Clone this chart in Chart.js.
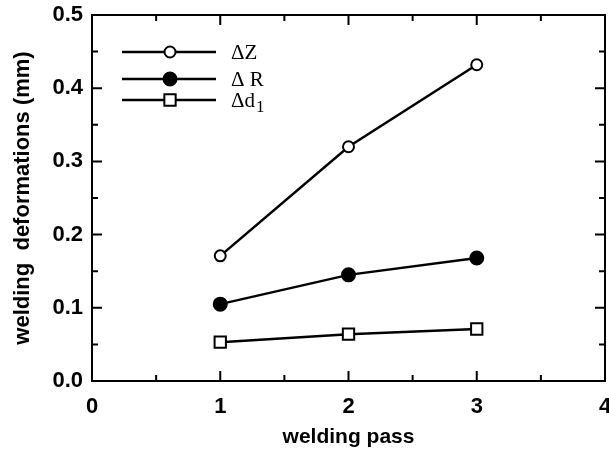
<!DOCTYPE html>
<html>
<head>
<meta charset="utf-8">
<script src="https://cdn.jsdelivr.net/npm/chart.js@4.4.0/dist/chart.umd.min.js"></script>
<style>
html,body{margin:0;padding:0;background:#fff;overflow:hidden;}
#wrap{width:609px;height:454px;overflow:hidden;}
</style>
</head>
<body>
<div id="wrap"><canvas id="c" width="615" height="454"></canvas></div>
<script>
const passes = [1, 2, 3];
const dZ = [0.171, 0.320, 0.432];
const dR = [0.105, 0.145, 0.168];
const dd1 = [0.053, 0.064, 0.071];
const xTicks = [0, 1, 2, 3, 4];
const yTicks = [0.0, 0.1, 0.2, 0.3, 0.4, 0.5];
const xMinor = [0.5, 1.5, 2.5, 3.5];
const yMinor = [0.05, 0.15, 0.25, 0.35, 0.45];
const seriesLabels = ['ΔZ', 'Δ R', 'Δd'];

const pts = (ys) => passes.map((x, i) => ({x: x, y: ys[i]}));

const frameTicks = {
  id: 'frameTicks',
  afterDraw(chart) {
    const ctx = chart.ctx, a = chart.chartArea;
    const xs = chart.scales.x, ys = chart.scales.y;
    ctx.save();
    ctx.strokeStyle = '#000';
    ctx.lineWidth = 2;
    ctx.strokeRect(a.left, a.top, a.right - a.left, a.bottom - a.top);
    const maj = 10, mn = 6;
    ctx.beginPath();
    xTicks.forEach(v => { const p = xs.getPixelForValue(v);
      ctx.moveTo(p, a.bottom); ctx.lineTo(p, a.bottom - maj);
      ctx.moveTo(p, a.top); ctx.lineTo(p, a.top + maj); });
    xMinor.forEach(v => { const p = xs.getPixelForValue(v);
      ctx.moveTo(p, a.bottom); ctx.lineTo(p, a.bottom - mn);
      ctx.moveTo(p, a.top); ctx.lineTo(p, a.top + mn); });
    yTicks.forEach(v => { const p = ys.getPixelForValue(v);
      ctx.moveTo(a.left, p); ctx.lineTo(a.left + maj, p);
      ctx.moveTo(a.right, p); ctx.lineTo(a.right - maj, p); });
    yMinor.forEach(v => { const p = ys.getPixelForValue(v);
      ctx.moveTo(a.left, p); ctx.lineTo(a.left + mn, p);
      ctx.moveTo(a.right, p); ctx.lineTo(a.right - mn, p); });
    ctx.stroke();

    // legend
    const rows = [52, 79, 100];
    chart.data.datasets.forEach((ds, i) => {
      const y = rows[i];
      ctx.beginPath();
      ctx.lineWidth = 2.5;
      ctx.strokeStyle = '#000';
      ctx.moveTo(122, y); ctx.lineTo(216, y);
      ctx.stroke();
      ctx.fillStyle = ds.pointBackgroundColor;
      ctx.strokeStyle = '#000';
      ctx.lineWidth = ds.pointBorderWidth;
      ctx.beginPath();
      if (ds.pointStyle === 'rect') {
        const s = Math.SQRT1_2 * ds.pointRadius;
        ctx.rect(170 - s, y - s, 2 * s, 2 * s);
      } else {
        ctx.arc(170, y, ds.pointRadius, 0, Math.PI * 2);
      }
      ctx.fill(); ctx.stroke();
      ctx.fillStyle = '#000';
      ctx.font = '21px "Liberation Serif"';
      ctx.textBaseline = 'alphabetic';
      ctx.textAlign = 'left';
      ctx.fillText(ds.label, 231, y + 7);
      if (i === 2) {
        const w = ctx.measureText(ds.label).width;
        ctx.font = '17px "Liberation Serif"';
        ctx.fillText('1', 231 + w + 1, y + 12);
      }
    });
    ctx.restore();
  }
};

const mk = (label, data, style, radius, fill) => ({
  label: label, data: data, borderColor: '#000', borderWidth: 2.5,
  pointStyle: style, pointRadius: radius, pointHoverRadius: radius,
  pointBackgroundColor: fill, pointBorderColor: '#000', pointBorderWidth: 2,
  showLine: true, fill: false, tension: 0
});

const noPad = s => ({left: 0, top: 0, right: 0, bottom: 0});

new Chart(document.getElementById('c'), {
  type: 'scatter',
  data: {
    datasets: [
      mk(seriesLabels[0], pts(dZ), 'circle', 5.5, '#fff'),
      mk(seriesLabels[1], pts(dR), 'circle', 6.5, '#000'),
      mk(seriesLabels[2], pts(dd1), 'rect', 8, '#fff')
    ]
  },
  options: {
    responsive: false,
    animation: false,
    layout: {padding: {top: 15, right: 4, left: 0, bottom: 0}},
    plugins: {legend: {display: false}, tooltip: {enabled: false}},
    scales: {
      x: {
        type: 'linear', min: 0, max: 4,
        afterBuildTicks: s => { s.ticks = xTicks.map(v => ({value: v})); },
        afterFit: s => { s.height = 73; s.paddingLeft = 0; s.paddingRight = 0; s.getPadding = noPad;
                         if (s._margins) { s._margins.left = 0; s._margins.right = 0; } },
        grid: {display: false, drawTicks: false},
        border: {display: false},
        ticks: {color: '#000', font: {family: '"Liberation Sans"', size: 22, weight: 'bold'}, padding: 13, maxRotation: 0,
                callback: v => String(v)},
        title: {display: true, text: 'welding pass', color: '#000',
                font: {family: '"Liberation Sans"', size: 21, weight: 'bold'}, padding: {top: 0, bottom: 4}}
      },
      y: {
        type: 'linear', min: 0, max: 0.5,
        afterBuildTicks: s => { s.ticks = yTicks.map(v => ({value: v})); },
        afterFit: s => { s.width = 92; s.paddingTop = 0; s.paddingBottom = 0; s.getPadding = noPad; },
        grid: {display: false, drawTicks: false},
        border: {display: false},
        ticks: {color: '#000', font: {family: '"Liberation Sans"', size: 22, weight: 'bold'}, padding: 9,
                callback: v => Number(v).toFixed(1)},
        title: {display: true, text: 'welding  deformations (mm)', color: '#000',
                font: {family: '"Liberation Sans"', size: 22, weight: 'bold'}, padding: {top: 10, bottom: 0}}
      }
    }
  },
  plugins: [frameTicks]
});
</script>
</body>
</html>
